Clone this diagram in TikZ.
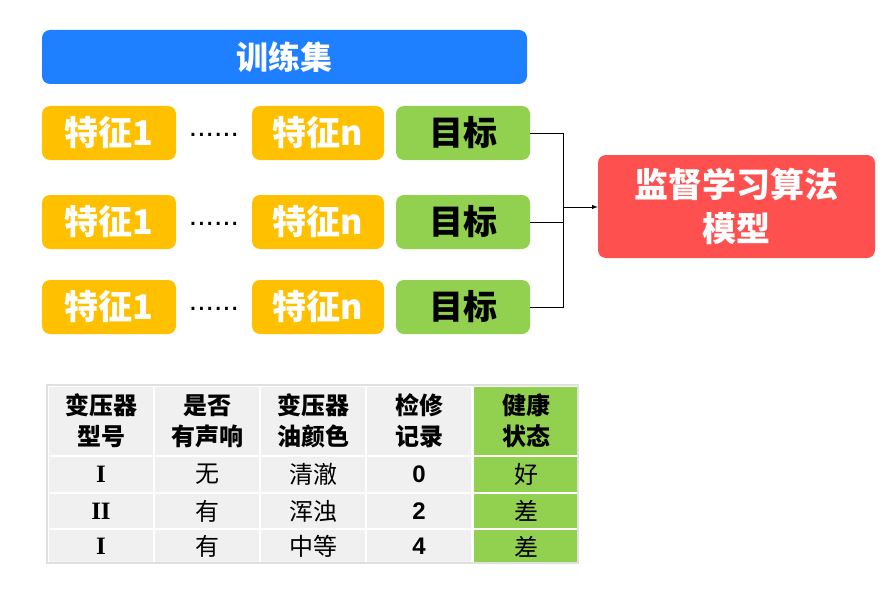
\documentclass[tikz,border=0pt]{standalone}
\usepackage{fontspec}
\setmainfont{Liberation Sans}
\newfontfamily\cjk{Noto Sans CJK SC}
\newfontfamily\tms{Liberation Serif}
\begin{document}
\begin{tikzpicture}[x=1pt,y=-1pt,
 box/.style={draw=none,rounded corners=8pt,font=\cjk\bfseries\fontsize{34}{38}\selectfont},
 feat/.style={box,fill=orangeY,text=white},
 tgt/.style={box,fill=greenY,text=black},
 cell/.style={draw=white,line width=2pt,fill=cellg},
 conn/.style={line width=1pt,black}]
\definecolor{orangeY}{HTML}{FFC000}
\definecolor{greenY}{HTML}{92D050}
\definecolor{blueB}{HTML}{1E7FFF}
\definecolor{redB}{HTML}{FF5050}
\definecolor{cellg}{HTML}{F0F0F0}
\useasboundingbox (0,0) rectangle (890,591);
\node[box,fill=blueB,text=white,font=\cjk\bfseries\fontsize{32}{36}\selectfont,minimum width=485,minimum height=54] (train) at (284.5,57) {训练集};
\foreach \r/\y in {1/133,2/222,3/307}{
 \node[feat,minimum width=134,minimum height=54] (f\r) at (109,\y) {特征1};
 \node[feat,minimum width=132,minimum height=54] (n\r) at (318,\y) {特征n};
 \node[tgt,minimum width=134,minimum height=54] (t\r) at (463,\y) {目标};
 \node[font=\fontsize{30}{32}\selectfont] (d\r) at (214,\y+2) {......};
}
\node[box,fill=redB,text=white,minimum width=277,minimum height=103,align=center,font=\cjk\bfseries\fontsize{34}{44}\selectfont] (m) at (736.5,206.5) {监督学习算法\\模型};
\coordinate (j) at (563,207);
\coordinate (jm) at (563,222);
\draw[conn] (t1.east) -| (j);
\draw[conn] (t3.east) -| (j);
\draw[conn] (t2.east) -- (jm);
\draw[conn,-latex] (j) -- (m.west |- j);
% table
\foreach \i/\a in {0/47,1/153,2/259,3/365}{
 \node[cell,minimum width=106,minimum height=70,inner sep=0,anchor=north west] (h\i) at (\a,385) {};
}
\node[cell,fill=greenY,minimum width=106,minimum height=70,inner sep=0,anchor=north west] (h4) at (472,385) {};
\foreach \j/\y/\h in {1/455/37,2/492/36,3/528/35}{
 \foreach \i/\a in {0/47,1/153,2/259,3/365}{
  \node[cell,minimum width=106,minimum height=\h,inner sep=0,anchor=north west] (c\j\i) at (\a,\y) {};
 }
 \node[cell,fill=greenY,minimum width=106,minimum height=\h,inner sep=0,anchor=north west] (c\j4) at (472,\y) {};
}
\draw[draw=black!12,line width=1.5pt] (47,385) rectangle (578,563);
\foreach \i/\t in {0/{变压器\\型号},1/{是否\\有声响},2/{变压器\\油颜色},3/{检修\\记录},4/{健康\\状态}}
 \node[align=center,font=\cjk\bfseries\fontsize{24}{31}\selectfont] at (h\i) {\t};
\foreach \j/\a/\b/\c/\d/\e in {1/I/无/清澈/0/好,2/II/有/浑浊/2/差,3/I/有/中等/4/差}{
 \node[font=\tms\bfseries\fontsize{25}{27}\selectfont] at (c\j0) {\a};
 \node[font=\cjk\fontsize{24}{26}\selectfont] at (c\j1) {\b};
 \node[font=\cjk\fontsize{24}{26}\selectfont] at (c\j2) {\c};
 \node[font=\bfseries\fontsize{24}{26}\selectfont] at (c\j3) {\d};
 \node[font=\cjk\fontsize{24}{26}\selectfont] at (c\j4) {\e};
}
\end{tikzpicture}
\end{document}
